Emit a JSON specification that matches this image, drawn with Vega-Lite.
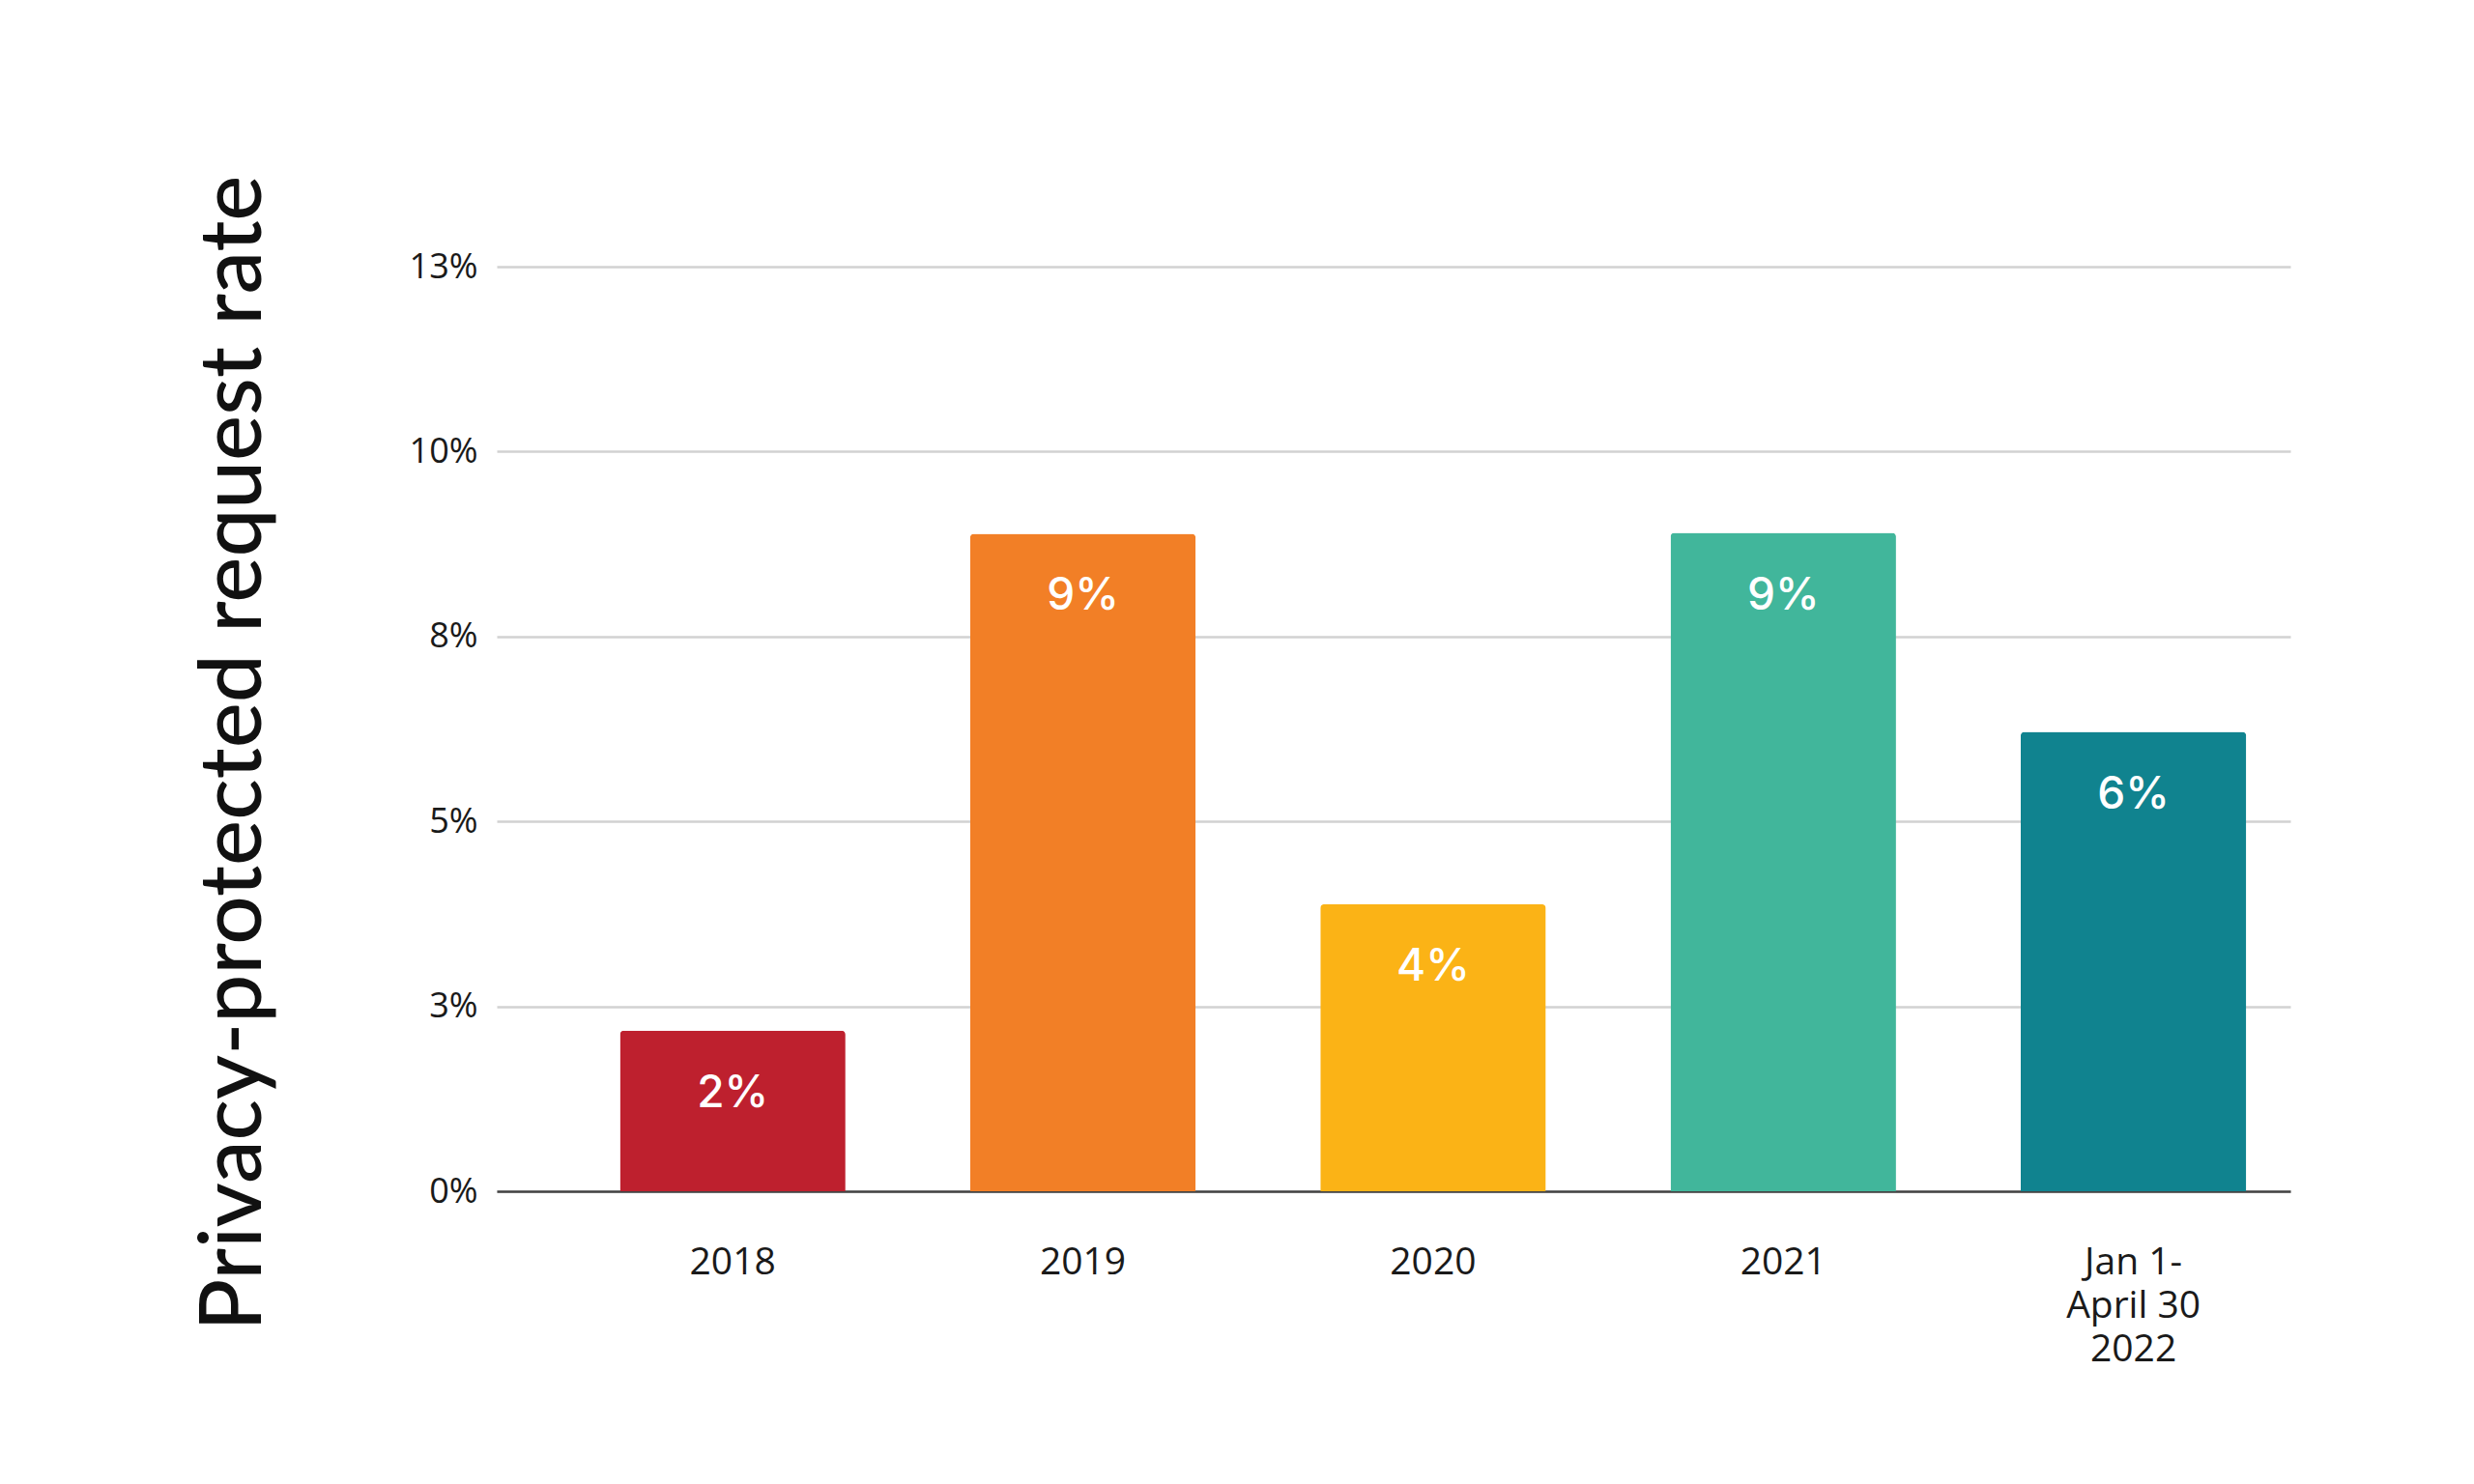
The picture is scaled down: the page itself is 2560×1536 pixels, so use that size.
{
  "$schema": "https://vega.github.io/schema/vega-lite/v6.json",
  "background": "#ffffff",
  "autosize": {"type": "none"},
  "padding": {"left": 514, "top": 276, "right": 190, "bottom": 303},
  "width": 1856,
  "height": 957,
  "data": {
    "values": [
      {"period": "2018", "rate": 0.0217},
      {"period": "2019", "rate": 0.0889},
      {"period": "2020", "rate": 0.0388},
      {"period": "2021", "rate": 0.089},
      {"period": "Jan 1-|April 30|2022", "rate": 0.0621}
    ]
  },
  "encoding": {
    "x": {
      "field": "period",
      "type": "nominal",
      "sort": null,
      "title": null,
      "scale": {"paddingInner": 0.356, "paddingOuter": 0.239, "align": 0.736},
      "axis": {
        "labelExpr": "split(datum.label, '|')",
        "labelAngle": 0,
        "labelFont": "Open Sans",
        "labelFontSize": 39,
        "labelColor": "#1a1a1a",
        "labelLineHeight": 45,
        "labelBaseline": "top",
        "labelPadding": 54,
        "labelOverlap": false,
        "ticks": false,
        "domainColor": "#444444",
        "domainWidth": 2.5,
        "grid": false
      }
    },
    "y": {
      "field": "rate",
      "type": "quantitative",
      "scale": {"domain": [0, 0.125], "nice": false},
      "axis": {
        "values": [0, 0.025, 0.05, 0.075, 0.1, 0.125],
        "format": ".0%",
        "labelFont": "Open Sans",
        "labelFontSize": 36,
        "labelColor": "#1a1a1a",
        "labelPadding": 20,
        "ticks": false,
        "domain": false,
        "gridColor": "#d2d2d2",
        "gridWidth": 2.5,
        "title": "Privacy-protected request rate",
        "titleFont": "Lato",
        "titleFontSize": 89,
        "titleFontWeight": 500,
        "titleColor": "#111111",
        "titleAngle": -90,
        "titleAlign": "center",
        "titleBaseline": "middle",
        "titleX": -272,
        "titleY": 503
      }
    }
  },
  "layer": [
    {
      "mark": {"type": "bar", "cornerRadiusTopLeft": 4, "cornerRadiusTopRight": 4},
      "encoding": {
        "color": {
          "field": "period",
          "type": "nominal",
          "legend": null,
          "scale": {
            "domain": ["2018", "2019", "2020", "2021", "Jan 1-|April 30|2022"],
            "range": ["#BE202E", "#F27F26", "#FBB316", "#41B69B", "#10838F"]
          }
        }
      }
    },
    {
      "mark": {
        "type": "text",
        "color": "#ffffff",
        "font": "Inter",
        "fontSize": 46,
        "fontWeight": 500,
        "baseline": "middle",
        "dy": 65
      },
      "encoding": {
        "text": {"field": "rate", "type": "quantitative", "format": ".0%"}
      }
    }
  ],
  "config": {"view": {"stroke": null}}
}
